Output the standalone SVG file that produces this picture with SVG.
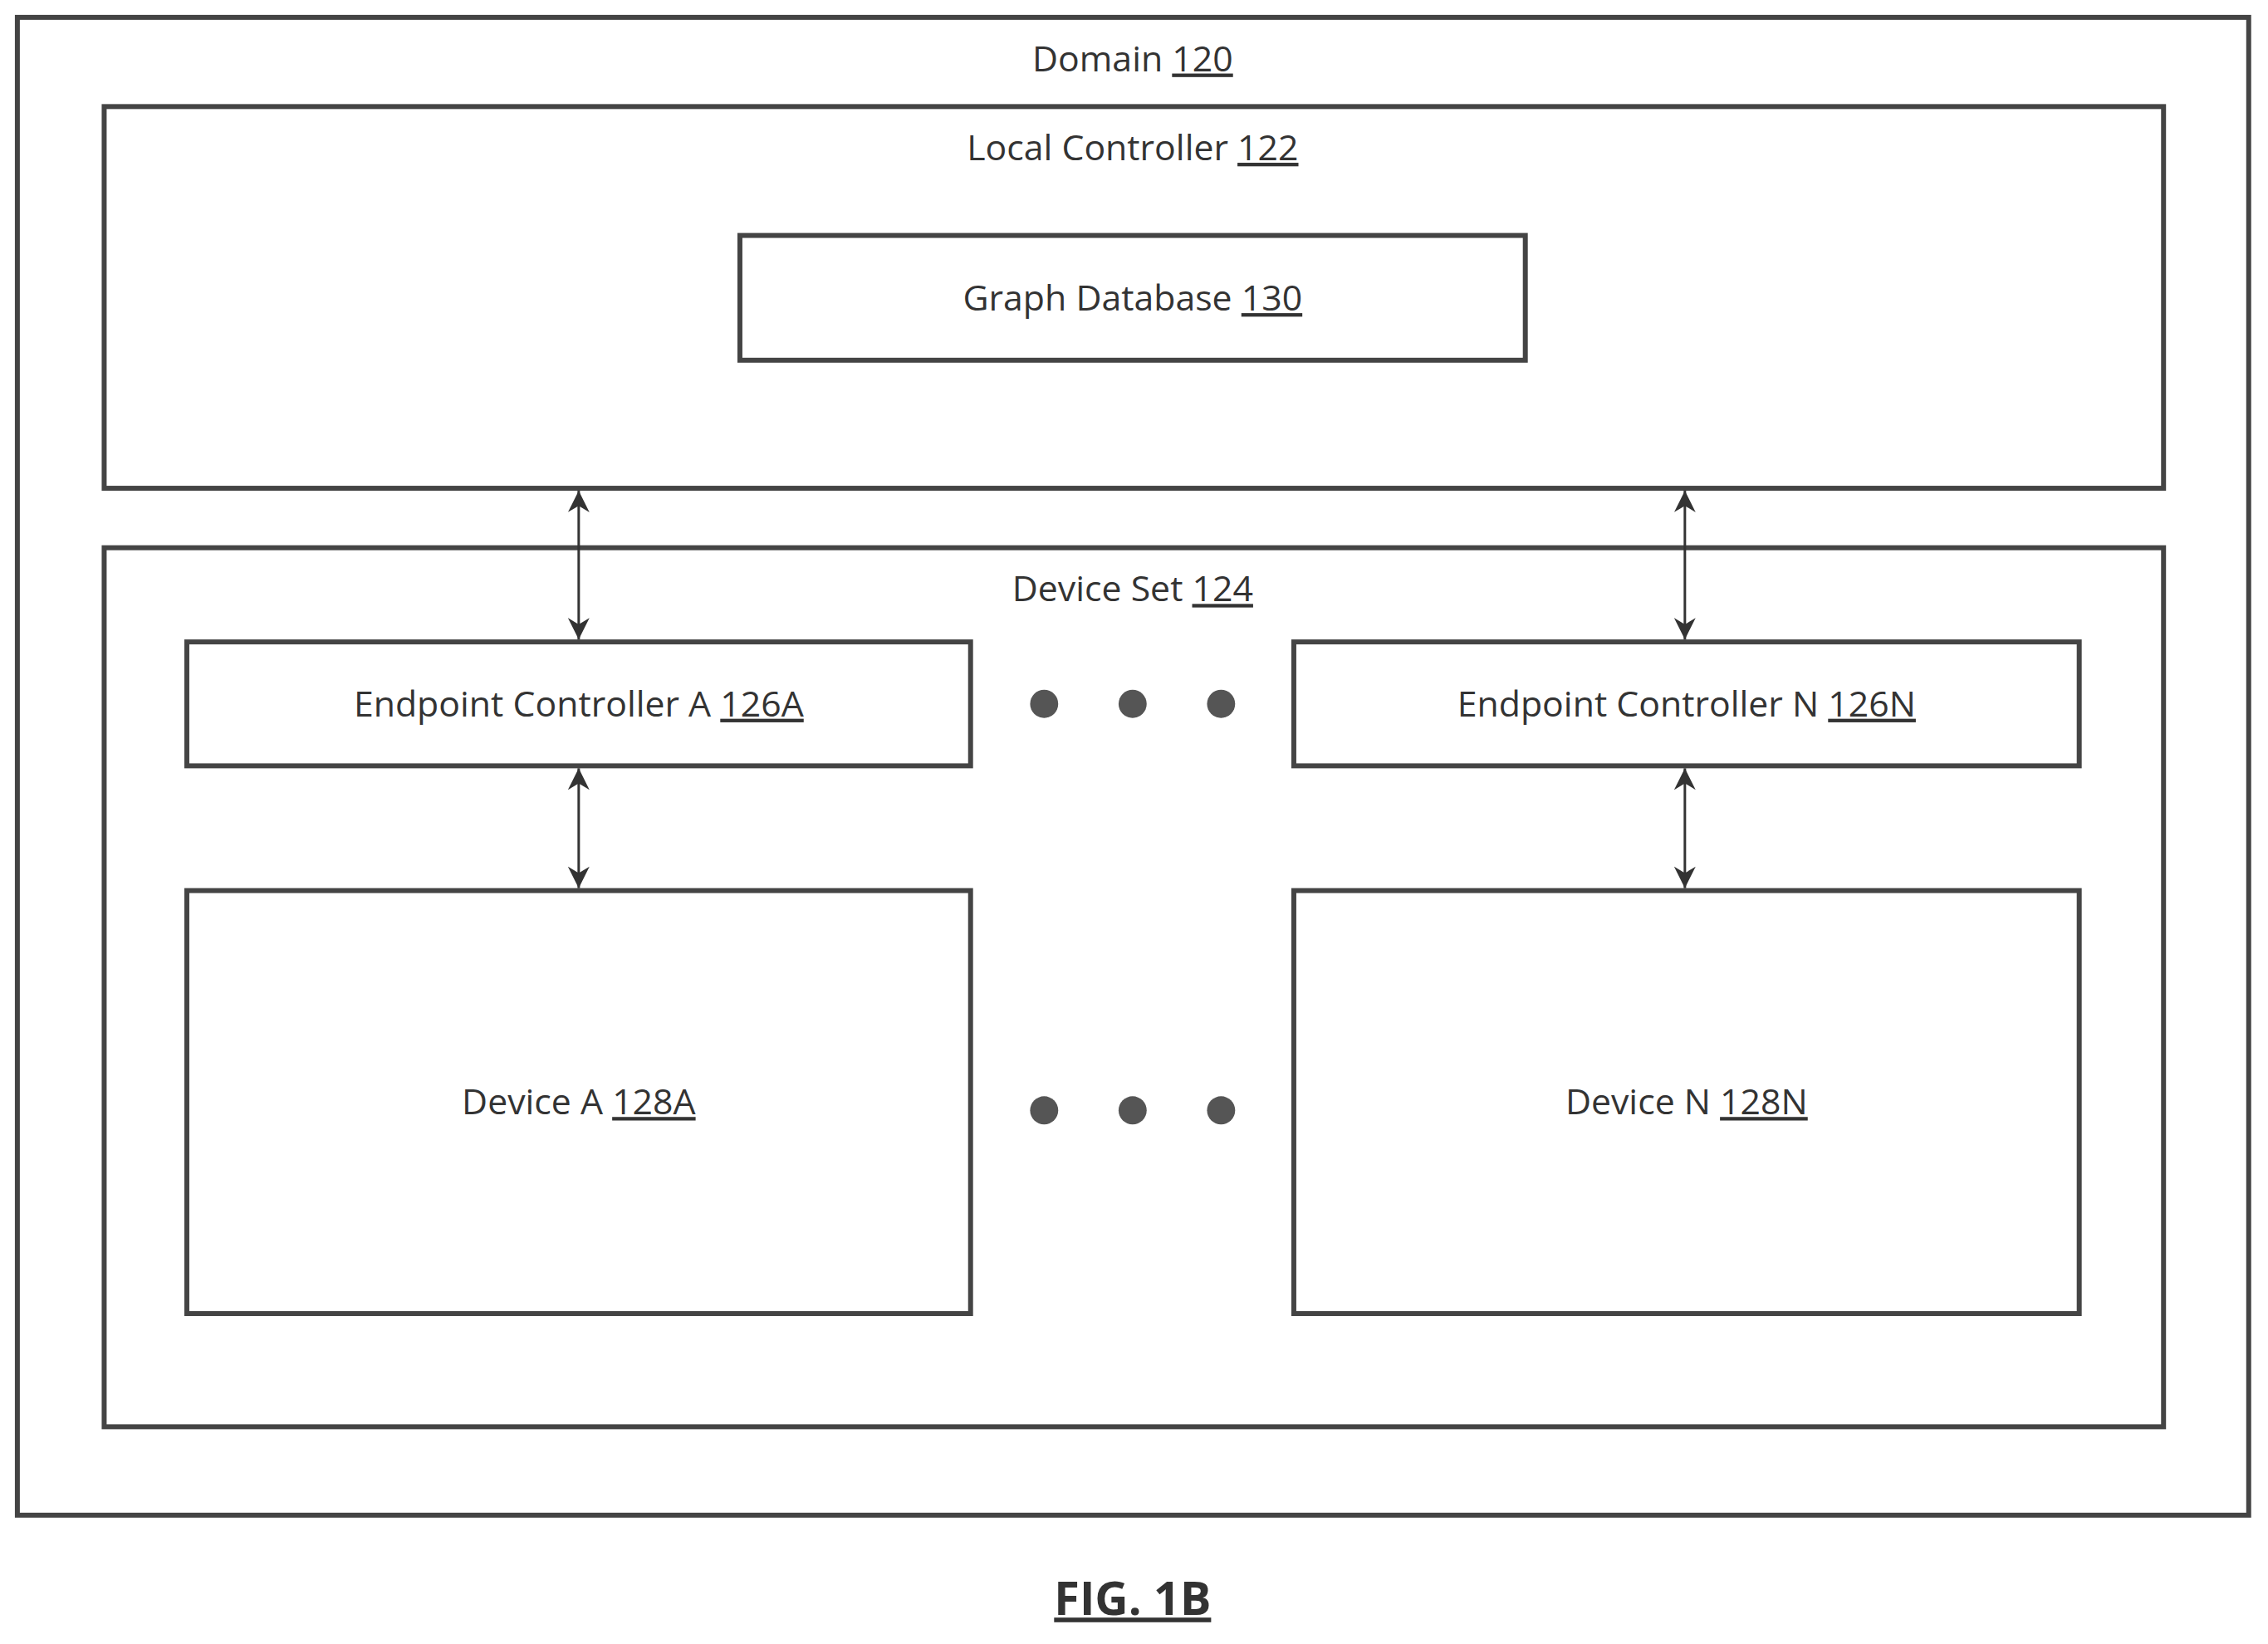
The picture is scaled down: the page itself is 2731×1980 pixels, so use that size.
<svg xmlns="http://www.w3.org/2000/svg" width="2731" height="1980" viewBox="0 0 2731 1980">
<style>
.b{fill:#fff;stroke:#444;stroke-width:6}
.t{font-family:"Open Sans",sans-serif;font-size:43px;fill:#333;text-anchor:middle}
.u{text-decoration:underline}
.c{stroke:#333;stroke-width:3;fill:none;marker-start:url(#a);marker-end:url(#a)}
.d{fill:#555}
</style>
<defs><marker id="a" viewBox="0 0 10 10" refX="10" refY="5" markerWidth="34" markerHeight="26" orient="auto-start-reverse" markerUnits="userSpaceOnUse"><path d="M0,0 L10,5 L0,10 L3,5 z" fill="#333"/></marker></defs>
<rect width="2731" height="1980" fill="#fff"/>
<g transform="scale(0.9955,0.995)">
<g id="domain"><rect class="b" x="21" y="21" width="2699" height="1813"/><text class="t" x="1370" y="86">Domain <tspan class="u">120</tspan></text></g>
<g id="local"><rect class="b" x="126" y="129" width="2491" height="462"/><text class="t" x="1370" y="194">Local Controller <tspan class="u">122</tspan></text></g>
<g id="graphdb"><rect class="b" x="895" y="285" width="950" height="151"/><text class="t" x="1370" y="376">Graph Database <tspan class="u">130</tspan></text></g>
<g id="deviceset"><rect class="b" x="126" y="663" width="2491" height="1064"/><text class="t" x="1370" y="728">Device Set <tspan class="u">124</tspan></text></g>
<g id="epA"><rect class="b" x="226" y="777" width="948" height="150"/><text class="t" x="700" y="867">Endpoint Controller A <tspan class="u">126A</tspan></text></g>
<g id="epN"><rect class="b" x="1565" y="777" width="950" height="150"/><text class="t" x="2040" y="867">Endpoint Controller N <tspan class="u">126N</tspan></text></g>
<g id="devA"><rect class="b" x="226" y="1078" width="948" height="512"/><text class="t" x="700" y="1349">Device A <tspan class="u">128A</tspan></text></g>
<g id="devN"><rect class="b" x="1565" y="1078" width="950" height="512"/><text class="t" x="2040" y="1349">Device N <tspan class="u">128N</tspan></text></g>
<g id="dots"><circle class="d" cx="1263" cy="852" r="17"/><circle class="d" cx="1370" cy="852" r="17"/><circle class="d" cx="1477" cy="852" r="17"/><circle class="d" cx="1263" cy="1344" r="17"/><circle class="d" cx="1370" cy="1344" r="17"/><circle class="d" cx="1477" cy="1344" r="17"/></g>
<g id="connectors">
<line class="c" x1="700" y1="594" x2="700" y2="774"/>
<line class="c" x1="2038" y1="594" x2="2038" y2="774"/>
<line class="c" x1="700" y1="930" x2="700" y2="1075"/>
<line class="c" x1="2038" y1="930" x2="2038" y2="1075"/>
</g>
<text x="1370" y="1955" style="font-family:'Open Sans',sans-serif;font-size:56px;font-weight:bold;fill:#333;text-anchor:middle;text-decoration:underline">FIG. 1B</text>
</g>
</svg>
